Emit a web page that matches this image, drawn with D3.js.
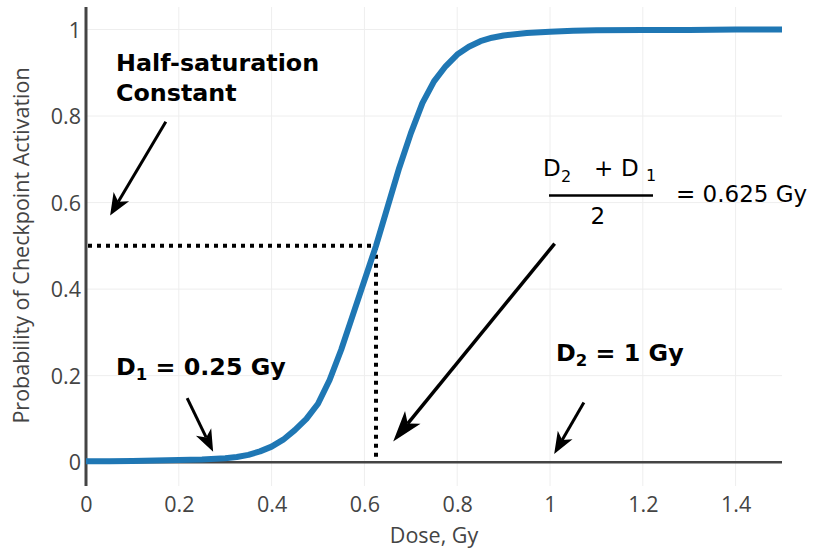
<!DOCTYPE html>
<html>
<head>
<meta charset="utf-8">
<script src="https://cdn.jsdelivr.net/npm/d3@7"></script>
<style>
  html, body { margin: 0; padding: 0; background: #fff; }
  svg { display: block; }
</style>
</head>
<body>
<div id="chart"></div>
<script>
// ---- data ----
const doses = [0, 0.05, 0.1, 0.15, 0.2, 0.25, 0.3, 0.325, 0.35, 0.375, 0.4, 0.425, 0.45, 0.475, 0.5, 0.525, 0.55, 0.575, 0.6, 0.625, 0.65, 0.675, 0.7, 0.725, 0.75, 0.775, 0.8, 0.825, 0.85, 0.875, 0.9, 0.95, 1.0, 1.05, 1.1, 1.2, 1.3, 1.4, 1.5];
const probs = [0.002, 0.002, 0.003, 0.004, 0.005, 0.006, 0.009, 0.012, 0.017, 0.025, 0.036, 0.052, 0.074, 0.1, 0.135, 0.19, 0.26, 0.34, 0.42, 0.5, 0.59, 0.68, 0.76, 0.83, 0.88, 0.915, 0.942, 0.96, 0.973, 0.981, 0.986, 0.992, 0.995, 0.997, 0.998, 0.999, 0.999, 1.0, 1.0];
const xTickValues = [0, 0.2, 0.4, 0.6, 0.8, 1, 1.2, 1.4];
const xTickLabels = ["0", "0.2", "0.4", "0.6", "0.8", "1", "1.2", "1.4"];
const yTickValues = [0, 0.2, 0.4, 0.6, 0.8, 1];
const yTickLabels = ["0", "0.2", "0.4", "0.6", "0.8", "1"];
const halfSat = { dose: 0.625, prob: 0.5 };
const xTitle = "Dose, Gy";
const yTitle = "Probability of Checkpoint Activation";

// ---- layout ----
const W = 814, H = 550;
const x = d3.scaleLinear().domain([0, 1.5]).range([86, 782]);
const y = d3.scaleLinear().domain([-0.055, 1.052]).range([486, 7]);

const svg = d3.select("#chart").append("svg").attr("width", W).attr("height", H);

// grid
const grid = svg.append("g");
grid.selectAll("line.gx").data(xTickValues).enter().append("line")
  .attr("x1", d => x(d)).attr("x2", d => x(d))
  .attr("y1", y.range()[1]).attr("y2", y.range()[0])
  .attr("stroke", "#eee").attr("stroke-width", 1);
grid.selectAll("line.gy").data(yTickValues).enter().append("line")
  .attr("x1", x.range()[0]).attr("x2", x.range()[1])
  .attr("y1", d => y(d)).attr("y2", d => y(d))
  .attr("stroke", "#eee").attr("stroke-width", 1);

// zero line
svg.append("line")
  .attr("x1", x.range()[0]).attr("x2", x.range()[1])
  .attr("y1", y(0)).attr("y2", y(0))
  .attr("stroke", "#444").attr("stroke-width", 2.5);

// axes (labels only, no tick marks)
const xAxis = d3.axisBottom(x).tickValues(xTickValues)
  .tickFormat((d, i) => xTickLabels[i]).tickSize(0).tickPadding(0);
const gx = svg.append("g").attr("transform", `translate(0,${y.range()[0]})`).call(xAxis);
gx.select(".domain").remove();
gx.selectAll("text").attr("font-family", "'Open Sans', sans-serif").attr("font-size", 21.5)
  .attr("fill", "#444").attr("dy", null).attr("y", 25.5);

const yAxis = d3.axisLeft(y).tickValues(yTickValues)
  .tickFormat((d, i) => yTickLabels[i]).tickSize(0).tickPadding(0);
const gy = svg.append("g").attr("transform", `translate(${x.range()[0]},0)`).call(yAxis);
gy.select(".domain").remove();
gy.selectAll("text").attr("font-family", "'Open Sans', sans-serif").attr("font-size", 21.5)
  .attr("fill", "#444").attr("x", -5).attr("dy", "0.35em");

// y axis line
svg.append("line")
  .attr("x1", x(0)).attr("x2", x(0))
  .attr("y1", y.range()[1]).attr("y2", y.range()[0])
  .attr("stroke", "#444").attr("stroke-width", 3);

// axis titles
svg.append("text").attr("x", (x.range()[0] + x.range()[1]) / 2).attr("y", 543)
  .attr("text-anchor", "middle").attr("font-family", "'Open Sans', sans-serif")
  .attr("font-size", 21.5).attr("fill", "#444").text(xTitle);
svg.append("text").attr("transform", `translate(29,${(y.range()[0] + y.range()[1]) / 2 - 1}) rotate(-90)`)
  .attr("text-anchor", "middle").attr("font-family", "'Open Sans', sans-serif")
  .attr("font-size", 21.5).attr("fill", "#444").text(yTitle);

// dotted guide lines at half saturation
svg.append("line")
  .attr("x1", x(0) + 2).attr("x2", x(halfSat.dose))
  .attr("y1", y(halfSat.prob)).attr("y2", y(halfSat.prob))
  .attr("stroke", "#000").attr("stroke-width", 4).attr("stroke-dasharray", "4,5");
svg.append("line")
  .attr("x1", x(halfSat.dose)).attr("x2", x(halfSat.dose))
  .attr("y1", y(halfSat.prob)).attr("y2", y(0) - 2)
  .attr("stroke", "#000").attr("stroke-width", 4).attr("stroke-dasharray", "4,5");

// curve
const pts = doses.map((d, i) => [d, probs[i]]);
svg.append("path").datum(pts)
  .attr("d", d3.line().x(d => x(d[0])).y(d => y(d[1])))
  .attr("fill", "none").attr("stroke", "#1f77b4").attr("stroke-width", 6)
  .attr("stroke-linejoin", "round");

// arrows (tail / tip in data coordinates)
const arrows = [
  { from: [0.172, 0.787], to: [0.052, 0.57], w: 3, L: 22, hw: 9, n: 16 },
  { from: [0.218, 0.148], to: [0.274, 0.024], w: 3, L: 22, hw: 8.5, n: 16 },
  { from: [1.010, 0.505], to: [0.662, 0.048], w: 3.5, L: 31, hw: 10, n: 23 },
  { from: [1.073, 0.138], to: [1.009, 0.019], w: 3, L: 22, hw: 8.5, n: 16 }
];
arrows.forEach(a => {
  const x0 = x(a.from[0]), y0 = y(a.from[1]), x1 = x(a.to[0]), y1 = y(a.to[1]);
  const dx = x1 - x0, dy = y1 - y0, len = Math.hypot(dx, dy);
  const ux = dx / len, uy = dy / len, nx = -uy, ny = ux;
  svg.append("line").attr("x1", x0).attr("y1", y0)
    .attr("x2", x1 - ux * a.n).attr("y2", y1 - uy * a.n)
    .attr("stroke", "#000").attr("stroke-width", a.w);
  const b1 = [x1 - ux * a.L + nx * a.hw, y1 - uy * a.L + ny * a.hw];
  const b2 = [x1 - ux * a.L - nx * a.hw, y1 - uy * a.L - ny * a.hw];
  const nt = [x1 - ux * a.n, y1 - uy * a.n];
  svg.append("path").attr("d", `M${x1},${y1}L${b1[0]},${b1[1]}L${nt[0]},${nt[1]}L${b2[0]},${b2[1]}Z`)
    .attr("fill", "#000");
});

// annotation texts
const bold = { fam: "'DejaVu Sans', sans-serif", size: 23.8 };
svg.append("text").attr("x", 116).attr("y", 70.5).attr("font-family", bold.fam)
  .attr("font-weight", "bold").attr("font-size", bold.size).attr("fill", "#000").text("Half-saturation");
svg.append("text").attr("x", 116).attr("y", 100.5).attr("font-family", bold.fam)
  .attr("font-weight", "bold").attr("font-size", bold.size).attr("fill", "#000").text("Constant");

function subLabel(x0, y0, main, sub, rest) {
  const t = svg.append("text").attr("x", x0).attr("y", y0).attr("font-family", bold.fam)
    .attr("font-weight", "bold").attr("font-size", bold.size).attr("fill", "#000");
  t.append("tspan").text(main);
  t.append("tspan").attr("dy", 5).attr("font-size", 16.5).text(sub);
  t.append("tspan").attr("dy", -5).text(rest);
}
subLabel(116, 375, "D", "1", " = 0.25 Gy");
subLabel(556, 360.5, "D", "2", " = 1 Gy");

// formula
const reg = "'DejaVu Sans', sans-serif";
const f = svg.append("g").attr("font-family", reg).attr("fill", "#000");
f.append("text").attr("x", 543).attr("y", 176).attr("font-size", 23).text("D");
f.append("text").attr("x", 561).attr("y", 182).attr("font-size", 16).text("2");
f.append("text").attr("x", 594).attr("y", 176).attr("font-size", 23).text("+");
f.append("text").attr("x", 621).attr("y", 176).attr("font-size", 23).text("D");
f.append("text").attr("x", 646).attr("y", 181).attr("font-size", 16).text("1");
f.append("line").attr("x1", 549).attr("x2", 653).attr("y1", 195.5).attr("y2", 195.5)
  .attr("stroke", "#000").attr("stroke-width", 2.5);
f.append("text").attr("x", 590.5).attr("y", 224).attr("font-size", 23).text("2");
f.append("text").attr("x", 676).attr("y", 202).attr("font-size", 23).text("= 0.625 Gy");
</script>
</body>
</html>
